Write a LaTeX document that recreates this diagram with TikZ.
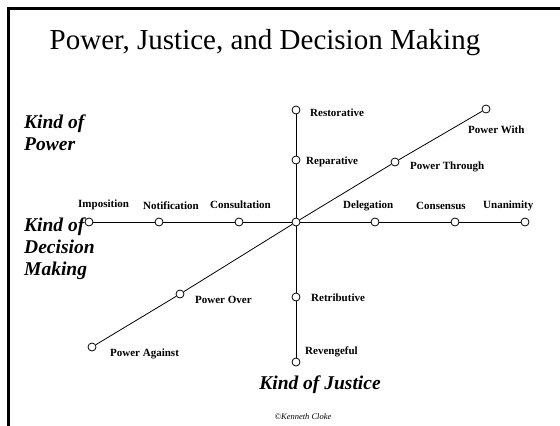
\documentclass[tikz,border=0pt]{standalone}
\usepackage{fontspec}
\setmainfont{Liberation Serif}
\tikzset{
  stop/.style={circle, draw, fill=white, inner sep=0pt, minimum size=8pt, line width=0.8pt},
  tag/.style={font=\fontsize{11}{12}\selectfont\bfseries, anchor=west, inner sep=0pt},
  axistitle/.style={font=\fontsize{19.5}{22}\selectfont\bfseries\itshape, align=left, inner sep=0pt}
}
\begin{document}
\begin{tikzpicture}[x=1pt, y=-1pt]
  \useasboundingbox (0,0) rectangle (560,426);

  % frame of the slide
  \draw[line width=2.5pt] (8.5,426) -- (8.5,8.5) -- (560,8.5);

  \node[font=\fontsize{29}{32}\selectfont] (title) at (265,43) {Power, Justice, and Decision Making};

  \begin{scope}[every node/.style={stop}]
    \node (c)    at (296,222) {};
    % justice
    \node (rest) at (296,110) {};
    \node (repa) at (296,160) {};
    \node (retr) at (296,297) {};
    \node (reve) at (296,362) {};
    % decision making
    \node (impo) at (89,222)  {};
    \node (noti) at (159,222) {};
    \node (cons) at (239,222) {};
    \node (dele) at (375,222) {};
    \node (cnss) at (455,222) {};
    \node (unan) at (525,222) {};
    % power
    \node (with) at (486,109) {};
    \node (thro) at (395,162) {};
    \node (over) at (180,294) {};
    \node (agai) at (92,347)  {};
  \end{scope}

  \begin{scope}[line width=0.8pt]
    \path (rest) edge (repa);
    \path (repa) edge (c);
    \path (c)    edge (retr);
    \path (retr) edge (reve);
    \path (impo) edge (noti);
    \path (noti) edge (cons);
    \path (cons) edge (c);
    \path (c)    edge (dele);
    \path (dele) edge (cnss);
    \path (cnss) edge (unan);
    \path (agai) edge (over);
    \path (over) edge (c);
    \path (c)    edge (thro);
    \path (thro) edge (with);
  \end{scope}

  \begin{scope}[every node/.style={tag}]
    \node (trest) at (310,113) {Restorative};
    \node (trepa) at (306,162) {Reparative};
    \node (tretr) at (311,298) {Retributive};
    \node (treve) at (305,352) {Revengeful};
    \node (timpo) at (78,205)  {Imposition};
    \node (tnoti) at (143,206) {Notification};
    \node (tcons) at (210,205) {Consultation};
    \node (tdele) at (343,206) {Delegation};
    \node (tcnss) at (416,206) {Consensus};
    \node (tunan) at (483,206) {Unanimity};
    \node (twith) at (468,130) {Power With};
    \node (tthro) at (410,167) {Power Through};
    \node (tover) at (195,300) {Power Over};
    \node (tagai) at (110,354) {Power Against};
  \end{scope}

  \node[axistitle, anchor=west] (kpow) at (24,133) {Kind of\\Power};
  \node[axistitle, anchor=west] (kdec) at (24,249) {Kind of\\Decision\\Making};
  \node[axistitle] (kjus) at (320,385) {Kind of Justice};
  \node[font=\fontsize{8.5}{10}\selectfont\itshape] (copy) at (303,417) {\textcopyright Kenneth Cloke};
\end{tikzpicture}
\end{document}
